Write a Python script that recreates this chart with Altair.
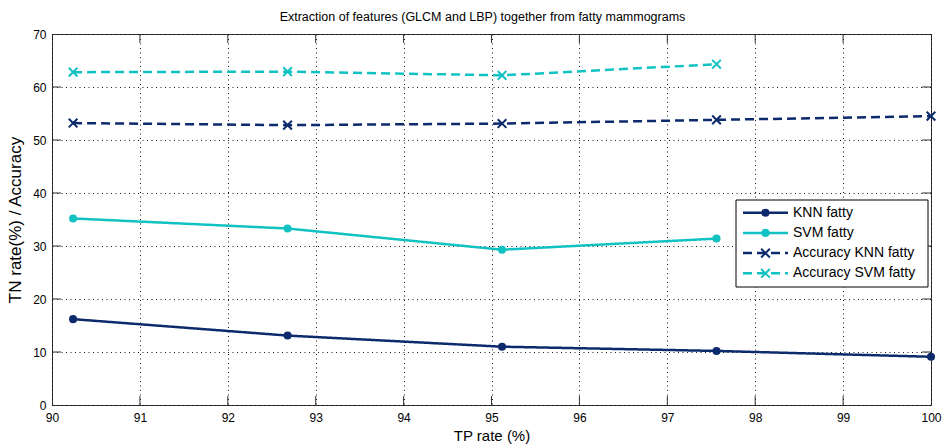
import json
import altair as alt
import pandas as pd

# TP rate (%) for each test configuration
tp_rate = [90.24, 92.68, 95.12, 97.56, 100.0]

# TN rate (%) and accuracy per classifier
knn_tn = [16.2, 13.1, 11.0, 10.2, 9.1]
svm_tn = [35.2, 33.3, 29.3, 31.4]
acc_knn = [53.2, 52.8, 53.1, 53.8, 54.5]
acc_svm = [62.8, 62.9, 62.2, 64.3]

series_names = ["KNN fatty", "SVM fatty", "Accuracy KNN fatty", "Accuracy SVM fatty"]
series_kind = ["tn", "tn", "acc", "acc"]
series_colors = ["#0c2a6c", "#12c2c2", "#0c2a6c", "#12c2c2"]
series_dash = [[1, 0], [1, 0], [9, 5], [9, 5]]

x_ticks = list(range(90, 101))
y_ticks = list(range(0, 71, 10))

W, H = 879, 371
FONT = "Liberation Sans"

rows = []
for name, kind, vals in zip(series_names, series_kind, [knn_tn, svm_tn, acc_knn, acc_svm]):
    for x, v in zip(tp_rate, vals):
        rows.append({"series": name, "kind": kind, "tp": x, "value": v})
df = pd.DataFrame(rows)

color_scale = alt.Scale(domain=series_names, range=series_colors)
dash_scale = alt.Scale(domain=series_names, range=series_dash)

x_enc = alt.X(
    "tp:Q",
    scale=alt.Scale(domain=[90, 100], nice=False, zero=False),
    axis=alt.Axis(
        values=x_ticks, format="d", title="TP rate (%)", grid=True, gridDash=[1, 3.5],
        gridColor="#000", gridOpacity=0.9, ticks=False, domain=False,
        labelPadding=7, labelFlush=False, labelOverlap=False, titlePadding=5,
    ),
)
y_enc = alt.Y(
    "value:Q",
    scale=alt.Scale(domain=[0, 70], nice=False, zero=False),
    axis=alt.Axis(
        values=y_ticks, format="d", title="TN rate(%) / Accuracy", grid=True,
        gridDash=[1, 3.5], gridColor="#000", gridOpacity=0.9, ticks=False,
        domain=False, labelPadding=6, labelOverlap=False, titlePadding=8,
        titleFontSize=17,
    ),
)
color_enc = alt.Color("series:N", scale=color_scale, legend=None)
dash_enc = alt.StrokeDash("series:N", scale=dash_scale, legend=None)

lines = alt.Chart(df).mark_line(strokeWidth=2.5).encode(
    x=x_enc, y=y_enc, color=color_enc, strokeDash=dash_enc, detail="series:N"
)
dots = alt.Chart(df).transform_filter("datum.kind == 'tn'").mark_point(
    filled=True, shape="circle", size=65, opacity=1
).encode(x="tp:Q", y="value:Q", color=color_enc)
crosses = alt.Chart(df).transform_filter("datum.kind == 'acc'").mark_point(
    filled=False, shape="M-1,-1L1,1M-1,1L1,-1", size=75, strokeWidth=2, opacity=1
).encode(x="tp:Q", y="value:Q", color=color_enc)

# inward tick marks on all four sides of the box
xt = pd.DataFrame({"t": x_ticks[1:-1]})
yt = pd.DataFrame({"t": y_ticks[1:-1]})
tick_col = "#333"
t_bottom = alt.Chart(xt).mark_rule(color=tick_col).encode(
    x="t:Q", y=alt.value(H), y2=alt.value(H - 9))
t_top = alt.Chart(xt).mark_rule(color=tick_col).encode(
    x="t:Q", y=alt.value(0), y2=alt.value(9))
t_left = alt.Chart(yt).mark_rule(color=tick_col).encode(
    y="t:Q", x=alt.value(0), x2=alt.value(9))
t_right = alt.Chart(yt).mark_rule(color=tick_col).encode(
    y="t:Q", x=alt.value(W), x2=alt.value(W - 9))

main = alt.layer(lines, dots, crosses, t_bottom, t_top, t_left, t_right)

# legend box drawn as its own layer; entries stacked by their order in series_names
legend_df = pd.DataFrame({"series": series_names, "kind": series_kind})
slot_expr = f"indexof({json.dumps(series_names)}, datum.series)"
ly = alt.Y("slot:Q", scale=alt.Scale(domain=[0, 3], range=[178.7, 239.3], nice=False, zero=False),
           axis=None)


def legend_base():
    return alt.Chart(legend_df).transform_calculate(slot=slot_expr)


box = alt.Chart(alt.Data(values=[{}])).mark_rect(
    fill="white", stroke="#000", strokeWidth=1
).encode(x=alt.value(684), x2=alt.value(876), y=alt.value(166), y2=alt.value(253))
l_lines = legend_base().mark_rule(strokeWidth=2.5).encode(
    x=alt.value(691), x2=alt.value(736), y=ly, color=color_enc, strokeDash=dash_enc)
l_dots = legend_base().transform_filter("datum.kind == 'tn'").mark_point(
    filled=True, shape="circle", size=65, opacity=1
).encode(x=alt.value(713.5), y=ly, color=color_enc)
l_crosses = legend_base().transform_filter("datum.kind == 'acc'").mark_point(
    filled=False, shape="M-1,-1L1,1M-1,1L1,-1", size=75, strokeWidth=2, opacity=1
).encode(x=alt.value(713.5), y=ly, color=color_enc)
l_text = legend_base().mark_text(
    align="left", baseline="middle", font=FONT, fontSize=14, color="#000"
).encode(x=alt.value(741), y=ly, text="series:N")
legend = alt.layer(box, l_lines, l_dots, l_crosses, l_text)

chart = alt.layer(main, legend).resolve_scale(y="independent").properties(
    width=W,
    height=H,
    title=alt.TitleParams(
        "Extraction of features (GLCM and LBP) together from fatty mammograms",
        font=FONT, fontSize=12.5, fontWeight="normal", color="#000",
        anchor="middle", offset=5, dx=-9,
    ),
    autosize=alt.AutoSizeParams(type="none"),
    padding={"left": 52, "top": 34, "right": 11, "bottom": 41},
    background="white",
).configure_view(stroke="#333", strokeWidth=1).configure_axis(
    labelFont=FONT, labelFontSize=12, labelColor="#000",
    titleFont=FONT, titleFontSize=15, titleColor="#000", titleFontWeight="normal",
)

chart.save("out.html", embed_options={"renderer": "svg", "actions": False})
